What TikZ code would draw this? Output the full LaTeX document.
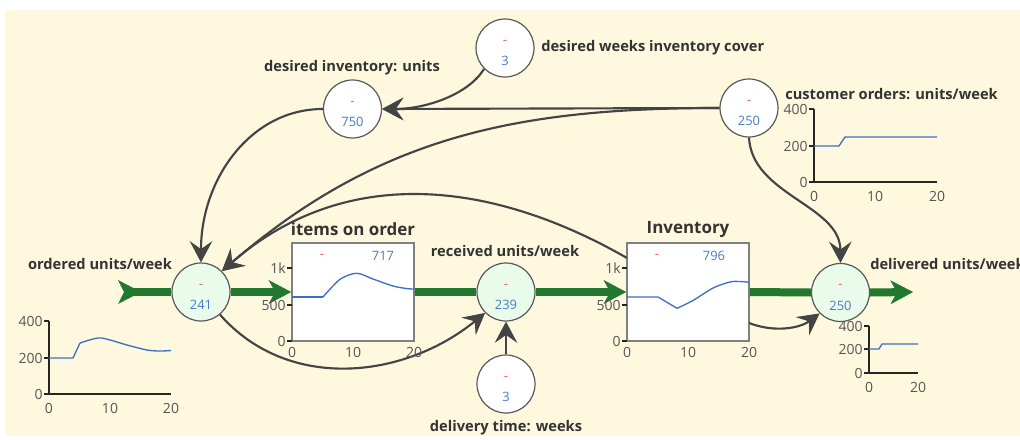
\documentclass[tikz,border=0pt]{standalone}
\usepackage{fontspec}
\setmainfont{Open Sans}
\usetikzlibrary{arrows.meta}
\definecolor{bg}{HTML}{FEF8DF}
\definecolor{flowg}{HTML}{23782F}
\definecolor{valvefill}{HTML}{E9FBEB}
\definecolor{linkc}{HTML}{444444}
\definecolor{valblue}{HTML}{4A7CC4}
\definecolor{curveblue}{HTML}{3D70C2}
\definecolor{dashred}{HTML}{F06060}
\definecolor{txt}{HTML}{333333}
\definecolor{tickc}{HTML}{555555}
\begin{document}
\begin{tikzpicture}[x=0.75pt,y=-0.75pt,
 valve/.style={circle, draw=black!65, line width=0.9pt, fill=valvefill, minimum size=43.5pt, inner sep=0pt},
 aux/.style={circle, draw=black!65, line width=0.9pt, fill=white, minimum size=43.5pt, inner sep=0pt},
 stock/.style={rectangle, draw=black!50, line width=1.2pt, fill=white, minimum width=91.5pt, minimum height=73.5pt, inner sep=0pt},
 flow/.style={draw=flowg, line width=6pt},
 flowarrow/.style={flow, -{Stealth[length=17pt,width=18pt,inset=5pt,line width=0.5pt]}},
 link/.style={draw=linkc, line width=1.6pt, -{Stealth[length=16pt,width=17pt,inset=6pt,line width=0.8pt]}},
 lbl/.style={font=\bfseries\fontsize{11}{13}\selectfont, text=txt, inner sep=0pt},
 ttl/.style={font=\bfseries\fontsize{12.7}{14}\selectfont, text=txt, inner sep=0pt},
 val/.style={font=\fontsize{9.7}{11}\selectfont, text=valblue, inner sep=0pt},
 reddash/.style={font=\fontsize{10}{11}\selectfont, text=dashred, inner sep=0pt},
 ticklbl/.style={font=\fontsize{10.5}{12}\selectfont, text=tickc, inner sep=0pt},
 axis/.style={draw=black!85, line width=1.1pt},
 tickmark/.style={draw=black!85, line width=0.8pt},
 curve/.style={draw=curveblue, line width=1pt, line join=round},
]
\useasboundingbox (0,0) rectangle (1020,439);
\fill[white] (0,0) rectangle (1020,439);
\fill[bg] (5,10) rectangle (1020,436);

% ---- nodes
\node[valve] (ord) at (201,292) {};
\node[valve] (rec) at (506,292) {};
\node[valve] (del) at (840.5,292.5) {};
\node[aux] (di) at (352.5,109) {};
\node[aux] (dw) at (505,48) {};
\node[aux] (co) at (749,108) {};
\node[aux] (dt) at (506,384) {};
\node[stock] (ioo) at (353,292) {};
\node[stock] (inv) at (688,292) {};

% ---- flows
\fill[flowg] (118,280) -- (141,292) -- (118,304) -- (124,292) -- cycle;
\coordinate (src) at (124,292);
\coordinate (snk) at (913,292);
\draw[flow] (src) -- (ord.west);
\draw[flowarrow] (ord.east) -- (ioo.west);
\draw[flow] (ioo.east) -- (rec.west);
\draw[flowarrow] (rec.east) -- (inv.west);
\draw[flow] (inv.east) -- (del.west);
\draw[flowarrow] (del.east) -- (snk);

% ---- links
\coordinate (invout) at (627,258);
\coordinate (invout2) at (749,323);
\draw[link] (dw.-135) .. controls (468,95) and (425,109) .. (di.east);
\draw[link] (co.west) -- (di.east);
\draw[link] (di.west) .. controls (250,109) and (201,180) .. (ord.north);
\draw[link] (co.west) .. controls (520,108) and (380,135) .. (ord.45);
\draw[link] (invout) .. controls (491,180) and (345,164) .. (ord.45);
\draw[link] (ord.-50) .. controls (288,392) and (404,379) .. (rec.-135);
\draw[link] (dt.north) -- (rec.south);
\draw[link] (invout2) .. controls (775,333) and (800,328) .. (del.-135);
\draw[link] (co.south) .. controls (752,195) and (840,205) .. (del.north);

% ---- values in circles
\node[reddash] (ordm) at (201,286) {-};
\node[val] (ordv) at (201,305) {241};
\node[reddash] (recm) at (506,286) {-};
\node[val] (recv) at (506,305) {239};
\node[reddash] (delm) at (840.5,286.5) {-};
\node[val] (delv) at (840.5,305.5) {250};
\node[reddash] (dim) at (352.5,103) {-};
\node[val] (div) at (352.5,122) {750};
\node[reddash] (dwm) at (505,42) {-};
\node[val] (dwv) at (505,61) {3};
\node[reddash] (com) at (749,102) {-};
\node[val] (cov) at (749,121) {250};
\node[reddash] (dtm) at (506,378) {-};
\node[val] (dtv) at (506,397) {3};
\node[reddash] (ioom) at (322,256) {-};
\node[val] (ioov) at (383,256) {717};
\node[reddash] (invm) at (657,256) {-};
\node[val] (invv) at (714,256) {796};

% ---- labels
\node[lbl] (lord) at (100,264) {ordered units/week};
\node[ttl] (lioo) at (353,229) {items on order};
\node[lbl] (lrec) at (505,251) {received units/week};
\node[ttl] (linv) at (688,229) {Inventory};
\node[lbl, anchor=west] (ldel) at (870,264) {delivered units/week};
\node[lbl] (ldi) at (352,68) {desired inventory: units};
\node[lbl, anchor=west] (ldw) at (541,48) {desired weeks inventory cover};
\node[lbl, anchor=west] (lco) at (785,94) {customer orders: units/week};
\node[lbl] (ldt) at (506,428) {delivery time: weeks};

% ---- graphs inside stocks
\foreach \xo/\nm in {0/a,335/b} {
  \draw[tickmark] (287+\xo,268) -- (292+\xo,268) (287+\xo,305) -- (292+\xo,305) (287+\xo,341) -- (292+\xo,341);
  \node[ticklbl, anchor=east] (\nm y1k) at (286+\xo,268) {1k};
  \node[ticklbl, anchor=east] (\nm y500) at (286+\xo,305) {500};
  \node[ticklbl, anchor=east] (\nm y0) at (286+\xo,341) {0};
  \node[ticklbl] (\nm x0) at (292+\xo,352) {0};
  \node[ticklbl] (\nm x10) at (353+\xo,352) {10};
  \node[ticklbl] (\nm x20) at (414+\xo,352) {20};
}
\draw[curve] (292,297) -- (323,297);
\draw[curve] plot[smooth, tension=0.55] coordinates {(323,297) (333,286) (342,278) (357,273.3) (373,279) (393,286) (407,288.6) (414,289)};
\draw[curve] (627,297) -- (658,297) -- (677,308.3);
\draw[curve] plot[smooth, tension=0.55] coordinates {(677,308.3) (693,300.5) (713,288) (730,282) (740,281.5) (749,282.3)};

% ---- ordered graph
\draw[axis] (49,321) -- (49,394) -- (171,394);
\draw[tickmark] (44,321) -- (49,321) (44,358) -- (49,358) (44,394) -- (49,394);
\foreach \v/\yy in {400/321,200/358,0/394} \node[ticklbl, anchor=east] (oy\v) at (43,\yy) {\v};
\foreach \v/\xx in {0/49,10/110,20/171} \node[ticklbl] (ox\v) at (\xx,408) {\v};
\draw[curve] (49,358) -- (73,358) -- (80,343);
\draw[curve] plot[smooth, tension=0.55] coordinates {(80,343) (98,338) (110,340) (127,345) (147,350) (160,351) (171,350.5)};

% ---- customer orders graph
\draw[axis] (814,109) -- (814,182) -- (937,182);
\draw[tickmark] (809,109) -- (814,109) (809,146) -- (814,146) (809,182) -- (814,182);
\foreach \v/\yy in {400/109,200/146,0/182} \node[ticklbl, anchor=east] (cy\v) at (808,\yy) {\v};
\foreach \v/\xx in {0/814,10/875,20/937} \node[ticklbl] (cx\v) at (\xx,196) {\v};
\draw[curve] (814,146) -- (839,146) -- (845,137) -- (937,137);

% ---- delivered graph
\draw[axis] (869,326) -- (869,373) -- (918,373);
\draw[tickmark] (864,326) -- (869,326) (864,349) -- (869,349) (864,373) -- (869,373);
\foreach \v/\yy in {400/326,200/349,0/373} \node[ticklbl, anchor=east] (dy\v) at (863,\yy) {\v};
\foreach \v/\xx in {0/869,20/918} \node[ticklbl] (dx\v) at (\xx,387) {\v};
\draw[curve] (869,349) -- (879,349) -- (882,344) -- (918,344);
\end{tikzpicture}
\end{document}
